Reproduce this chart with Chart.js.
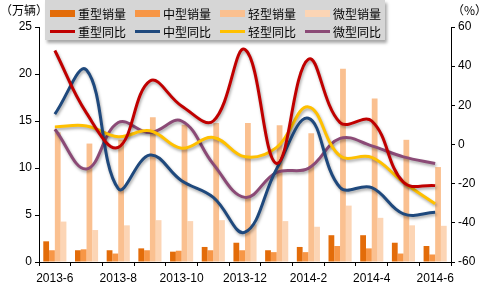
<!DOCTYPE html>
<html>
<head>
<meta charset="utf-8">
<script src="https://cdn.jsdelivr.net/npm/chart.js@4.4.1/dist/chart.umd.min.js"></script>
<style>
  body { margin: 0; background: #fff; font-family: "Liberation Sans", Arial, "Noto Sans CJK SC", sans-serif; }
  #wrap { position: relative; width: 491px; height: 285px; }
  .unit { position: absolute; top: 1px; font-size: 12px; color: #000; font-family: "Noto Sans CJK SC", sans-serif; }
  #legend {
    position: absolute; left: 45px; top: 0; width: 340px; height: 40px;
    background: #d6d6d6; box-shadow: 2px 3px 3px rgba(0,0,0,0.35);
    font-family: "Noto Sans CJK SC", sans-serif; font-size: 12px;
  }
  .item { position: absolute; height: 16px; line-height: 16px; white-space: nowrap; }
  .item span { display: inline-block; vertical-align: middle; }
</style>
</head>
<body>
<div id="wrap">
  <canvas id="c" width="491" height="285"></canvas>
  <div class="unit" style="left:0">（万辆）</div>
  <div class="unit" style="left:452px">（%）</div>
  <div id="legend"></div>
</div>
<script>
const months = ["2013-6", "2013-7", "2013-8", "2013-9", "2013-10", "2013-11", "2013-12",
  "2014-1", "2014-2", "2014-3", "2014-4", "2014-5", "2014-6"];

// sales, 万辆
const heavySales = [2.2, 1.25, 1.25, 1.45, 1.1, 1.6, 2.05, 1.25, 1.6, 2.85, 2.85, 2.05, 1.7];
const mediumSales = [1.25, 1.35, 0.9, 1.25, 1.2, 1.25, 1.25, 1.05, 1.05, 1.7, 1.45, 0.9, 0.8];
const lightSales = [13.8, 12.6, 13.0, 15.4, 14.6, 14.8, 14.8, 14.55, 13.7, 20.55, 17.4, 13.0, 10.1];
const miniSales = [4.3, 3.4, 3.9, 4.45, 4.35, 4.45, 4.0, 4.35, 3.75, 6.0, 4.7, 3.9, 3.85];

// year on year, %
const heavyYoy = [48, 16, -1.5, 32.4, 19.7, 12, 48.5, -9.7, 43.5, 11.2, 12, -19.3, -21];
const mediumYoy = [15.5, 38, -22.5, -5.4, -18.5, -27, -44.8, -12.4, 13.4, -21.9, -22, -35.4, -34.6];
const lightYoy = [9, 9.5, 4, 7, -1.9, 3.6, -6.3, -1.5, 19.2, -5.8, -6.6, -19.3, -30.3];
const miniYoy = [7.8, -12.5, 11.2, 6.1, 12, -10, -27, -14.2, -12.2, 3.1, -0.7, -6.3, -9.7];

const leftTicks = [0, 5, 10, 15, 20, 25];
const rightTicks = [-60, -40, -20, 0, 20, 40, 60];

const barColors = ["#e36c09", "#f79646", "#fac090", "#fcd5b5"];
const lineColors = ["#c00000", "#1f497d", "#ffc000", "#8b4a76"];

function bar(label, data, color) {
  return { type: "bar", label: label, data: data, backgroundColor: color, yAxisID: "y", order: 2,
    categoryPercentage: 0.73, barPercentage: 1.0 };
}
function line(label, data, color) {
  return { type: "line", label: label, data: data, borderColor: color, backgroundColor: color,
    yAxisID: "y1", order: 1, borderWidth: 3, pointRadius: 0, tension: 0.4, fill: false };
}

const datasets = [
  bar("重型销量", heavySales, barColors[0]),
  bar("中型销量", mediumSales, barColors[1]),
  bar("轻型销量", lightSales, barColors[2]),
  bar("微型销量", miniSales, barColors[3]),
  line("重型同比", heavyYoy, lineColors[0]),
  line("中型同比", mediumYoy, lineColors[1]),
  line("轻型同比", lightYoy, lineColors[2]),
  line("微型同比", miniYoy, lineColors[3]),
];

// soft shadow under the lines
const lineShadow = {
  id: "lineShadow",
  beforeDatasetDraw(chart, args) {
    if (args.meta.type !== "line") return;
    const ctx = chart.ctx;
    ctx.save();
    ctx.shadowColor = "rgba(0,0,0,0.35)";
    ctx.shadowBlur = 3;
    ctx.shadowOffsetX = 1;
    ctx.shadowOffsetY = 2;
  },
  afterDatasetDraw(chart, args) {
    if (args.meta.type !== "line") return;
    chart.ctx.restore();
  }
};

const tickFont = { family: "'Liberation Sans', Arial, sans-serif", size: 12 };

new Chart(document.getElementById("c"), {
  data: { labels: months, datasets: datasets },
  options: {
    responsive: false,
    animation: false,
    layout: { padding: { top: 27, left: 0, right: 0, bottom: 0 } },
    plugins: { legend: { display: false }, tooltip: { enabled: false } },
    scales: {
      x: {
        offset: true,
        grid: { display: true, drawOnChartArea: false, offset: true, tickLength: 4, color: "#000" },
        border: { display: true, color: "#000", width: 1 },
        ticks: {
          autoSkip: false, maxRotation: 0, color: "#000", font: tickFont, padding: 5,
          callback: function (v, i) { return i % 2 === 0 ? months[i] : ""; }
        },
        afterFit(s) { s.height = 23; }
      },
      y: {
        position: "left", min: 0, max: 25,
        grid: { display: true, drawOnChartArea: false, tickLength: 4, color: "#000" },
        border: { display: true, color: "#000", width: 1 },
        ticks: { stepSize: 5, color: "#000", font: tickFont, padding: 3,
          callback: function (v) { return leftTicks.includes(v) ? v : null; } },
        afterFit(s) { s.width = 39; }
      },
      y1: {
        position: "right", min: -60, max: 60,
        grid: { display: true, drawOnChartArea: false, tickLength: 4, color: "#000" },
        border: { display: true, color: "#000", width: 1 },
        ticks: { stepSize: 20, color: "#000", font: tickFont, padding: 3,
          callback: function (v) { return rightTicks.includes(v) ? v : null; } },
        afterFit(s) { s.width = 40; }
      }
    }
  },
  plugins: [lineShadow]
});

// legend box drawn over the plot, like the original
const legend = document.getElementById("legend");
datasets.forEach(function (ds, i) {
  const row = i < 4 ? 0 : 1;
  const col = i % 4;
  const el = document.createElement("div");
  el.className = "item";
  el.style.left = (5 + col * 85) + "px";
  el.style.top = (row === 0 ? 4 : 22) + "px";
  const sw = document.createElement("span");
  sw.style.width = "25px";
  sw.style.height = ds.type === "bar" ? "7px" : "3px";
  sw.style.background = ds.type === "bar" ? ds.backgroundColor : ds.borderColor;
  sw.style.marginRight = "3px";
  const tx = document.createElement("span");
  tx.textContent = ds.label;
  el.appendChild(sw);
  el.appendChild(tx);
  legend.appendChild(el);
});
</script>
</body>
</html>
